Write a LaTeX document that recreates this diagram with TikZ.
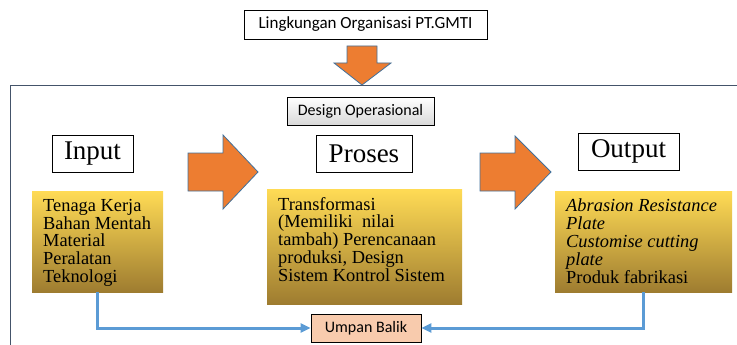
\documentclass[tikz,border=0pt]{standalone}
\usepackage{fontspec}
\setmainfont{Liberation Serif}
\setsansfont{Carlito}
\usetikzlibrary{arrows.meta}

\definecolor{oranye}{HTML}{ED7D31}
\definecolor{tepipanah}{HTML}{41719C}
\definecolor{bingkai}{HTML}{44546A}
\definecolor{kuningatas}{HTML}{FFDB55}
\definecolor{kuningbawah}{HTML}{9E7C30}
\definecolor{salem}{HTML}{F8CBAD}
\definecolor{biru}{HTML}{5B9BD5}

% isi kotak kuning: lebar, tinggi, teks
\newcommand{\isikotak}[3]{\parbox[t][#2][t]{#1}{\leftskip=11pt\vspace*{8pt}#3}}

\tikzset{
  judul/.style={draw, line width=0.8pt, inner sep=0pt, font=\sffamily\fontsize{16}{18}\selectfont},
  kepala/.style={draw, line width=1pt, inner sep=0pt, minimum height=37pt, font=\fontsize{27}{30}\selectfont},
  kuning/.style={top color=kuningatas, bottom color=kuningbawah, inner sep=0pt, anchor=north west,
    font=\fontsize{18.4}{17.8}\selectfont},
  panah/.style={fill=oranye, draw=tepipanah, line width=0.8pt},
  balik/.style={draw=biru, line width=3pt, -{Triangle[length=10pt,width=9pt]}},
}

\begin{document}
\begin{tikzpicture}[x=1pt,y=-1pt]
  \useasboundingbox (0,0) rectangle (737,345);
  \clip (0,0) rectangle (737,345);

  % bingkai design operasional
  \draw[bingkai, line width=1.4pt] (10.7,345) -- (10.7,85.7) -- (740,85.7);

  \node[judul, fill=white, minimum width=243pt, minimum height=29pt, font=\sffamily\fontsize{17}{19}\selectfont] (lingk) at (365.5,24.5) {Lingkungan Organisasi PT.GMTI};
  % panah ke bawah
  \draw[panah] (347,46) -- (377,46) -- (377,63) -- (391,63) -- (362,85) -- (334,63) -- (347,63) -- cycle;

  \node[judul, top color=white, bottom color=black!15, minimum width=147pt, minimum height=28pt] (desop) at (360.5,111) {Design Operasional};

  % judul tiap tahap
  \node[kepala, minimum width=81pt] (inp) at (92.5,154) {Input};
  \node[kepala, minimum width=96pt] (pros) at (364,153.5) {Proses};
  \node[kepala, minimum width=101pt] (outp) at (628.5,151.5) {Output};

  % panah antar tahap
  \draw[panah] (188,153) -- (223,153) -- (223,135) -- (258,172) -- (223,209) -- (223,191) -- (188,191) -- cycle;
  \draw[panah] (480,153) -- (515,153) -- (515,136) -- (551,172) -- (515,209) -- (515,191) -- (480,191) -- cycle;

  % isi tiap tahap
  \node[kuning] (isiin) at (32,191) {\isikotak{131pt}{101pt}{Tenaga Kerja\\Bahan Mentah\\Material\\Peralatan\\Teknologi}};
  \node[kuning] (isipros) at (267,189) {\isikotak{195pt}{115pt}{Transformasi\\(Memiliki\enspace nilai\\tambah) Perencanaan\\produksi, Design\\Sistem Kontrol Sistem}};
  \node[kuning] (isiout) at (555,191) {\isikotak{177pt}{101pt}{\itshape Abrasion Resistance\\Plate\\Customise cutting\\plate\\\upshape Produk fabrikasi}};

  \node[judul, fill=salem, minimum width=110pt, minimum height=28pt] (umpan) at (366,328) {Umpan Balik};

  % umpan balik
  \draw[balik] (isiin.south) |- (umpan.west);
  \draw[balik] (isiout.south) |- (umpan.east);
\end{tikzpicture}
\end{document}
